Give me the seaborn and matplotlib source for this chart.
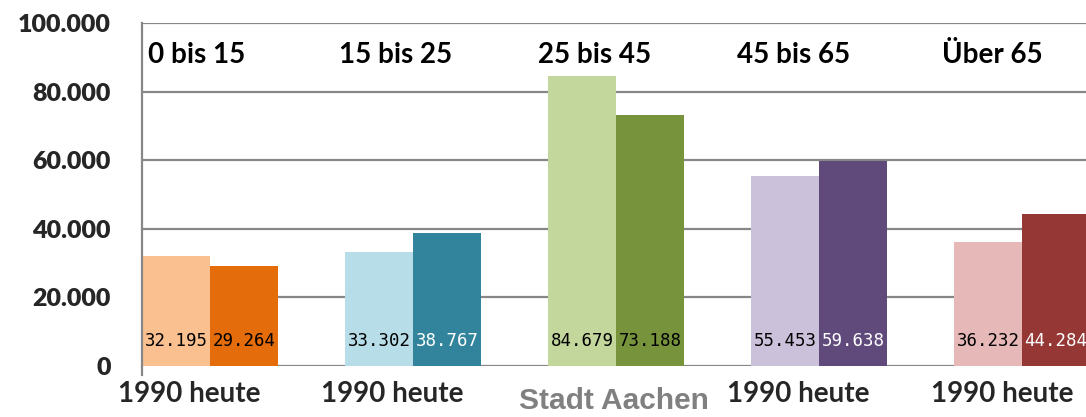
import matplotlib
matplotlib.use("Agg")
import matplotlib.pyplot as plt
import seaborn as sns
import pandas as pd
import numpy as np

groups = ["0 bis 15", "15 bis 25", "25 bis 45", "45 bis 65", "Über 65"]
periods = ["1990", "heute"]
values_1990 = [32195, 33302, 84679, 55453, 36232]
values_heute = [29264, 38767, 73188, 59638, 44284]
light_colors = ["#FAC090", "#B7DEE8", "#C3D69B", "#CCC1DA", "#E6B9B8"]
dark_colors = ["#E46C0A", "#31849B", "#77933C", "#604A7B", "#953735"]
dark_label_colors = ["black", "white", "black", "white", "white"]
x_labels = ["1990 heute", "1990 heute", "", "1990 heute", "1990 heute"]
y_ticks = [0, 20000, 40000, 60000, 80000, 100000]
y_tick_labels = ["0", "20.000", "40.000", "60.000", "80.000", "100.000"]
axis_title = "Stadt Aachen"

df = pd.DataFrame({
    "group": groups * 2,
    "period": [periods[0]] * 5 + [periods[1]] * 5,
    "value": values_1990 + values_heute,
})

sns.set_style("white")
plt.rcParams["font.family"] = ["Lato", "DejaVu Sans"]

fig = plt.figure(figsize=(10.86, 4.17), dpi=100)
ax = fig.add_axes([142 / 1086, 51 / 417, 944 / 1086, 343 / 417])

sns.barplot(data=df, x="group", y="value", hue="period", order=groups,
            hue_order=periods, width=0.67, dodge=True, legend=False,
            saturation=1, ax=ax, zorder=2)

# recolor bars
bars = sorted(ax.patches, key=lambda p: p.get_x())
for i, p in enumerate(bars):
    g = i // 2
    p.set_facecolor(light_colors[g] if i % 2 == 0 else dark_colors[g])
    p.set_edgecolor("none")
    p.set_linewidth(0)

# value labels
for i, p in enumerate(bars):
    g = i // 2
    v = values_1990[g] if i % 2 == 0 else values_heute[g]
    col = "black" if i % 2 == 0 else dark_label_colors[g]
    ax.text(p.get_x() + p.get_width() / 2, 7300,
            f"{v:,}".replace(",", "."), ha="center", va="center",
            fontsize=12.5, family="DejaVu Sans Mono", color=col,
            zorder=5, clip_on=False)

ax.set_xlim(-0.335, 4.315)
ax.set_ylim(0, 100000)
ax.set_yticks(y_ticks)
ax.set_yticklabels(y_tick_labels, fontsize=18, fontweight="heavy")
ax.yaxis.grid(True, color="#878787", linewidth=1.6, zorder=0)
ax.set_axisbelow(True)
ax.tick_params(axis="y", length=8.5, width=1.5, color="#878787",
               direction="out", pad=14)
ax.tick_params(axis="x", length=0)

ax.set_xticks(np.arange(len(groups)) - 0.1)
ax.set_xticklabels(x_labels, fontsize=20, fontweight="bold")
ax.tick_params(axis="x", pad=11)
ax.set_xlabel("")
ax.set_ylabel("")

for s in ["top", "right", "bottom"]:
    ax.spines[s].set_visible(False)
ax.spines["left"].set_color("#878787")
ax.spines["left"].set_linewidth(1.6)
ax.spines["left"].set_bounds(-2600, 100000)
ax.spines["left"].set_zorder(3)

for g, name in enumerate(groups):
    ax.text(g * 0.98 - 0.065, 90700, name, ha="center", va="center",
            fontsize=20, fontweight="bold", color="black")

ax.text(1.99, -10300, axis_title, ha="center", va="center",
        fontsize=21.5, fontweight="bold", family="Liberation Sans",
        color="#808080", clip_on=False)

fig.savefig("out.png", dpi=100)
